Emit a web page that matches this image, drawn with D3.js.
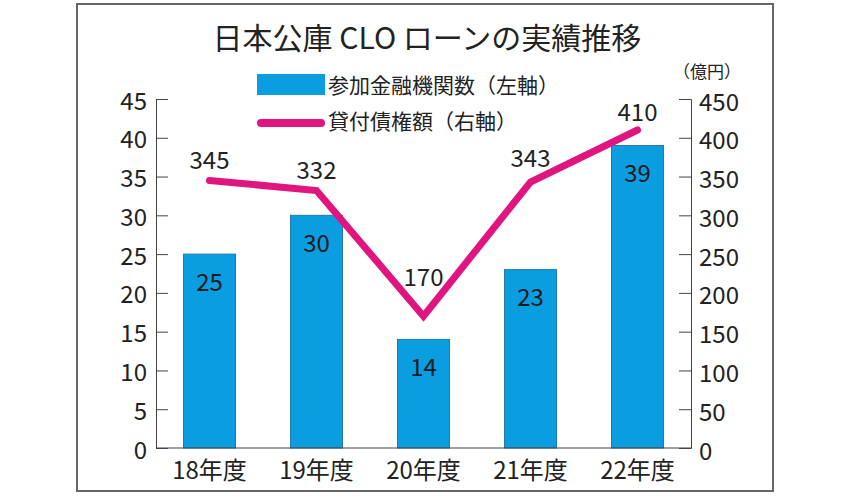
<!DOCTYPE html>
<html>
<head>
<meta charset="utf-8">
<script src="https://cdn.jsdelivr.net/npm/d3@7"></script>
<style>
  html, body { margin: 0; padding: 0; background: #fff; }
  svg { display: block; font-family: "Noto Sans CJK JP", "Noto Sans", sans-serif; }
</style>
</head>
<body>
<div id="chart"></div>
<script>
// data
const years = ["18年度", "19年度", "20年度", "21年度", "22年度"];
const banks = [25, 30, 14, 23, 39];          // 参加金融機関数（左軸）
const loans = [345, 332, 170, 343, 410];     // 貸付債権額（右軸, 億円）
const leftTicks = [0, 5, 10, 15, 20, 25, 30, 35, 40, 45];
const rightTicks = [0, 50, 100, 150, 200, 250, 300, 350, 400, 450];

const width = 850, height = 496;
const plot = { left: 156, right: 691, top: 99, bottom: 448 };
const barColor = "#0a9de0";
const lineColor = "#e0157f";
const textColor = "#222";

const svg = d3.select("#chart").append("svg")
  .attr("width", width)
  .attr("height", height);

// frame
svg.append("rect")
  .attr("x", 77).attr("y", 4)
  .attr("width", 696).attr("height", 487)
  .attr("fill", "#fff")
  .attr("stroke", "#666")
  .attr("stroke-width", 2);

// scales
const x = d3.scaleBand()
  .domain(years)
  .range([plot.left, plot.right])
  .paddingInner(0.514)
  .paddingOuter(0.257);

const yL = d3.scaleLinear().domain([0, 45]).range([plot.bottom, plot.top]);
const yR = d3.scaleLinear().domain([0, 450]).range([plot.bottom, plot.top]);

// bars
svg.selectAll(".bar")
  .data(banks)
  .enter()
  .append("rect")
  .attr("class", "bar")
  .attr("x", (d, i) => x(years[i]))
  .attr("y", d => yL(d))
  .attr("width", x.bandwidth())
  .attr("height", d => yL(0) - yL(d))
  .attr("fill", barColor)
  .attr("stroke", "#2379a8")
  .attr("stroke-width", 1);

svg.selectAll(".bar-label")
  .data(banks)
  .enter()
  .append("text")
  .attr("class", "bar-label")
  .attr("x", (d, i) => x(years[i]) + x.bandwidth() / 2)
  .attr("y", d => yL(d) + 26)
  .attr("text-anchor", "middle")
  .attr("dominant-baseline", "central")
  .attr("font-size", 24)
  .attr("fill", "#1a1a1a")
  .text(d => d);

// axes
const axisL = svg.append("g")
  .attr("transform", `translate(${plot.left},0)`)
  .call(d3.axisRight(yL).tickValues(leftTicks).tickSize(12).tickFormat(""));
axisL.select(".domain").attr("stroke", "#444");
axisL.selectAll(".tick line").attr("stroke", "#444");

const axisR = svg.append("g")
  .attr("transform", `translate(${plot.right},0)`)
  .call(d3.axisLeft(yR).tickValues(rightTicks).tickSize(12).tickFormat(""));
axisR.select(".domain").attr("stroke", "#444");
axisR.selectAll(".tick line").attr("stroke", "#444");

svg.selectAll(".ltick")
  .data(leftTicks)
  .enter()
  .append("text")
  .attr("x", plot.left - 9)
  .attr("y", d => yL(d))
  .attr("text-anchor", "end")
  .attr("dominant-baseline", "central")
  .attr("font-size", 24)
  .attr("fill", textColor)
  .text(d => d);

svg.selectAll(".rtick")
  .data(rightTicks)
  .enter()
  .append("text")
  .attr("x", plot.right + 8)
  .attr("y", d => yR(d) + 1)
  .attr("text-anchor", "start")
  .attr("dominant-baseline", "central")
  .attr("font-size", 24)
  .attr("fill", textColor)
  .text(d => d);

// baseline
svg.append("line")
  .attr("x1", plot.left).attr("x2", plot.right)
  .attr("y1", plot.bottom).attr("y2", plot.bottom)
  .attr("stroke", "#444")
  .attr("stroke-width", 1.2);

// x labels
svg.selectAll(".xlabel")
  .data(years)
  .enter()
  .append("text")
  .attr("x", d => x(d) + x.bandwidth() / 2)
  .attr("y", plot.bottom + 20)
  .attr("text-anchor", "middle")
  .attr("dominant-baseline", "central")
  .attr("font-size", 24)
  .attr("fill", textColor)
  .text(d => d);

// line
const line = d3.line()
  .x((d, i) => x(years[i]) + x.bandwidth() / 2)
  .y(d => yR(d));

svg.append("path")
  .datum(loans)
  .attr("d", line)
  .attr("fill", "none")
  .attr("stroke", lineColor)
  .attr("stroke-width", 7)
  .attr("stroke-linejoin", "miter")
  .attr("stroke-linecap", "round");

const lineLabelDy = [-22, -22, -41, -25, -20];
svg.selectAll(".line-label")
  .data(loans)
  .enter()
  .append("text")
  .attr("x", (d, i) => x(years[i]) + x.bandwidth() / 2)
  .attr("y", (d, i) => yR(d) + lineLabelDy[i])
  .attr("text-anchor", "middle")
  .attr("dominant-baseline", "central")
  .attr("font-size", 24)
  .attr("fill", textColor)
  .text(d => d);

// title
svg.append("text")
  .attr("x", 427)
  .attr("y", 36)
  .attr("text-anchor", "middle")
  .attr("dominant-baseline", "central")
  .attr("font-size", 30)
  .attr("fill", textColor)
  .text("日本公庫 CLO ローンの実績推移");

// legend
svg.append("rect")
  .attr("x", 257).attr("y", 74)
  .attr("width", 68).attr("height", 21)
  .attr("fill", barColor);
svg.append("text")
  .attr("x", 328).attr("y", 84)
  .attr("dominant-baseline", "central")
  .attr("font-size", 21)
  .attr("fill", textColor)
  .text("参加金融機関数（左軸）");

svg.append("line")
  .attr("x1", 261).attr("x2", 321)
  .attr("y1", 123).attr("y2", 123)
  .attr("stroke", lineColor)
  .attr("stroke-width", 8)
  .attr("stroke-linecap", "round");
svg.append("text")
  .attr("x", 328).attr("y", 120)
  .attr("dominant-baseline", "central")
  .attr("font-size", 21)
  .attr("fill", textColor)
  .text("貸付債権額（右軸）");

// unit
svg.append("text")
  .attr("x", 707).attr("y", 70)
  .attr("text-anchor", "middle")
  .attr("dominant-baseline", "central")
  .attr("font-size", 17)
  .attr("fill", textColor)
  .text("（億円）");
</script>
</body>
</html>
